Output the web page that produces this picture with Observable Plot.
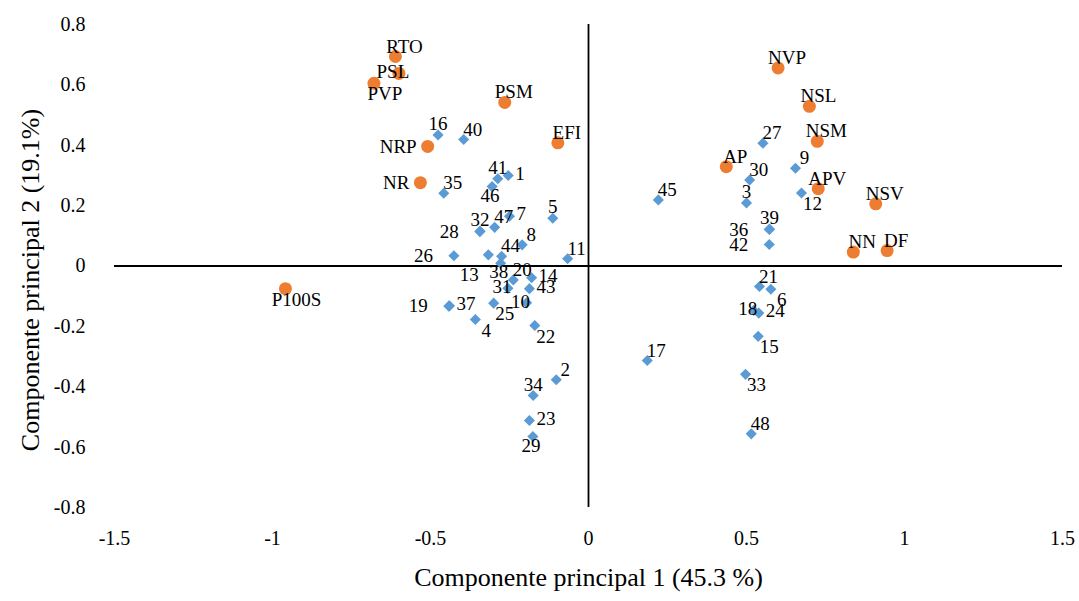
<!DOCTYPE html>
<html>
<head>
<meta charset="utf-8">
<script src="https://cdn.jsdelivr.net/npm/d3@7"></script>
<script src="https://cdn.jsdelivr.net/npm/@observablehq/plot@0.6"></script>
<style>
  html, body { margin: 0; padding: 0; background: #fff; }
</style>
</head>
<body>
<div id="chart"></div>
<script>
// ---- Data ----
const varNames = ["RTO","PSL","PVP","PSM","NRP","EFI","NR","P100S","NVP","NSL","NSM","AP","APV","NSV","NN","DF"];
const varPC1 = [-0.611,-0.600,-0.679,-0.265,-0.509,-0.097,-0.532,-0.959,0.600,0.699,0.724,0.436,0.727,0.909,0.838,0.945];
const varPC2 = [0.694,0.638,0.605,0.542,0.396,0.408,0.276,-0.075,0.656,0.529,0.413,0.329,0.256,0.206,0.046,0.051];
const varLabelPos = ["NE","C","SE","NE","W","NE","W","SE","NE","NE","NE","NE","NE","NE","NE","NE"];

const sampleIds = ["1","2","3","4","5","6","7","8","9","10","11","12","13","14","15","16","17","18","19","20","21","22","23","24","25","26","27","28","29","30","31","32","33","34","35","36","37","38","39","40","41","42","43","44","45","46","47","48"];
const samplePC1 = [-0.254,-0.102,0.500,-0.358,-0.113,0.577,-0.250,-0.210,0.655,-0.196,-0.066,0.674,-0.317,-0.180,0.537,-0.476,0.186,0.523,-0.442,-0.238,0.541,-0.170,-0.187,0.539,-0.300,-0.426,0.552,-0.344,-0.176,0.510,-0.255,-0.343,0.497,-0.175,-0.458,0.572,-0.440,-0.278,0.573,-0.395,-0.287,0.572,-0.187,-0.275,0.221,-0.305,-0.297,0.515];
const samplePC2 = [0.300,-0.377,0.209,-0.177,0.158,-0.077,0.165,0.070,0.324,-0.122,0.024,0.242,0.037,-0.039,-0.233,0.434,-0.313,-0.147,-0.133,-0.046,-0.068,-0.197,-0.512,-0.156,-0.123,0.034,0.407,0.114,-0.565,0.285,-0.074,0.115,-0.359,-0.429,0.241,0.121,-0.132,0.009,0.122,0.419,0.289,0.071,-0.075,0.032,0.219,0.263,0.128,-0.556];
const sampleLabelPos = ["E","NE","N","SE","N","SE","E","NE","NE","C","NE","SE","SW","E","SE","N","NE","C","WW","NE","NE","SE","E","E","SE","WW","NE","WW","S","NE","C","N","SE","N","NE","WW","E","S","N","NE","N","WW","E","NE","NE","S","NE","NE"];

const xTicks = [-1.5,-1,-0.5,0,0.5,1,1.5];
const yTicks = [-0.8,-0.6,-0.4,-0.2,0,0.2,0.4,0.6,0.8];
const xTitle = "Componente principal 1 (45.3 %)";
const yTitle = "Componente principal 2 (19.1%)";

// ---- Build tables ----
const variables = varNames.map((n,i) => ({label:n, pc1:varPC1[i], pc2:varPC2[i], pos:varLabelPos[i]}));
const samples = sampleIds.map((n,i) => ({label:n, pc1:samplePC1[i], pc2:samplePC2[i], pos:sampleLabelPos[i]}));
const allPoints = samples.concat(variables);

// Label placement styles (Excel-like data-label positions)
const POS = {
  N:  {dx:0,   dy:-11, textAnchor:"middle"},
  NE: {dx:9,   dy:-10, textAnchor:"middle"},
  E:  {dx:7,   dy:-2,  textAnchor:"start"},
  SE: {dx:11,  dy:11,  textAnchor:"middle"},
  S:  {dx:-2,  dy:9,   textAnchor:"middle"},
  SW: {dx:-19, dy:20,  textAnchor:"middle"},
  W:  {dx:-11, dy:0,   textAnchor:"end"},
  WW: {dx:-21, dy:0,   textAnchor:"end"},
  C:  {dx:-6,  dy:-1,  textAnchor:"middle"}
};
const labelMarks = Object.keys(POS).map(k =>
  Plot.text(allPoints.filter(d => d.pos === k), {
    x:"pc1", y:"pc2", text:"label", fill:"#000", fontSize:19, ...POS[k]
  })
);

const fmt = d => String(+d.toFixed(1));

const chart = Plot.plot({
  width: 1079,
  height: 601,
  marginLeft: 114,
  marginRight: 17,
  marginTop: 24,
  marginBottom: 94,
  style: {fontFamily: "'Liberation Serif', 'Times New Roman', serif", fontSize: "20px", background: "#fff", color: "#000"},
  x: {domain: [-1.5, 1.5], axis: null},
  y: {domain: [-0.8, 0.8], axis: null},
  marks: [
    // tick labels (Excel style: at chart edges, axes lines cross at origin)
    Plot.text(xTicks, {x: d => d, text: fmt, frameAnchor: "bottom", lineAnchor: "middle", dy: 31, fontSize: 20, fill: "#000"}),
    Plot.text(yTicks, {y: d => d, text: fmt, frameAnchor: "left", textAnchor: "end", dx: -29, fontSize: 20, fill: "#000"}),
    Plot.ruleY([0], {stroke: "#000", strokeWidth: 1.8}),
    Plot.ruleX([0], {stroke: "#000", strokeWidth: 1.8}),
    Plot.dot(samples, {x:"pc1", y:"pc2", symbol:"diamond2", r:5, fill:"#5B9BD5", stroke:"none"}),
    Plot.dot(variables, {x:"pc1", y:"pc2", symbol:"circle", r:6.5, fill:"#ED7D31", stroke:"none"}),
    ...labelMarks,
    Plot.text([xTitle], {frameAnchor:"bottom", textAnchor:"middle", dy:78, fontSize:26, fill:"#000"}),
    Plot.text([yTitle], {frameAnchor:"left", textAnchor:"middle", rotate:-90, dx:-84, dy:14, fontSize:26, fill:"#000"})
  ]
});
document.getElementById("chart").appendChild(chart);
</script>
</body>
</html>
